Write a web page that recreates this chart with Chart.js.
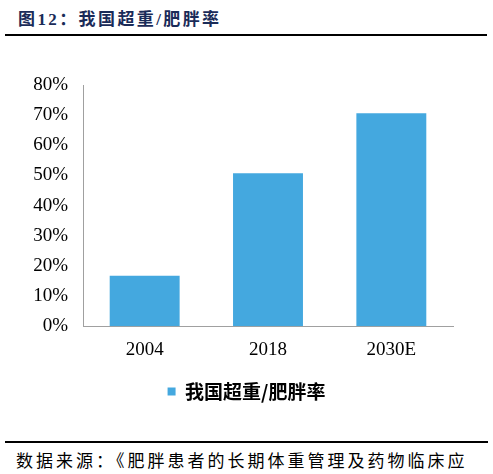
<!DOCTYPE html>
<html>
<head>
<meta charset="utf-8">
<script src="https://cdn.jsdelivr.net/npm/chart.js@4/dist/chart.umd.min.js"></script>
<style>
	body { margin:0; width:493px; height:474px; background:#fff; position:relative; overflow:hidden; }
	#title { position:absolute; left:18px; top:5px; font:bold 17px "Liberation Serif", "Noto Sans CJK SC", serif; color:#1a2b58; letter-spacing:2.4px; white-space:nowrap; }
	#topLine { position:absolute; left:5px; top:34px; width:482px; height:2px; background:#000; }
	#botLine { position:absolute; left:5px; top:441px; width:483px; height:2px; background:#000; }
	#source { position:absolute; left:16px; top:447px; font:17px "Noto Sans CJK SC", sans-serif; color:#000; white-space:nowrap; letter-spacing:3px; }
	#wrap { position:absolute; left:0; top:50px; width:493px; height:358px; }
</style>
</head>
<body>
<div id="title">图12：我国超重/肥胖率</div>
<div id="topLine"></div>
<div id="wrap"><canvas id="chart"></canvas></div>
<div id="botLine"></div>
<div id="source">数据来源：《肥胖患者的长期体重管理及药物临床应</div>
<script>
// chart data
var years = ['2004', '2018', '2030E'];
var obesityRate = [16.7, 50.7, 70.6];
var seriesName = '我国超重/肥胖率';
var yTicks = [0, 10, 20, 30, 40, 50, 60, 70, 80];

var serif = 'Liberation Serif';

// center the legend on the whole canvas, not only on the padded area
var legendShift = {
	id: 'legendShift',
	afterLayout: function(c) {
		c.legend.right += 40;
		c.legend.top += 3;
		c.legend.bottom += 3;
	}
};

var ctx = document.getElementById('chart').getContext('2d');
chart = new Chart(ctx, {
	type: 'bar',
	data: {
		labels: years,
		datasets: [{
			label: seriesName,
			data: obesityRate,
			backgroundColor: '#44a8df',
			barPercentage: 0.567,
			categoryPercentage: 1
		}]
	},
	plugins: [legendShift],
	options: {
		responsive: true,
		maintainAspectRatio: false,
		animation: false,
		layout: { padding: { left: 0, right: 40, top: 35, bottom: 0 } },
		plugins: {
			tooltip: { enabled: false },
			legend: {
				position: 'bottom',
				labels: {
					boxWidth: 8,
					boxHeight: 8,
					color: '#000',
					padding: 6,
					font: { family: '"Noto Sans CJK SC", sans-serif', size: 19, weight: 'bold' }
				}
			}
		},
		scales: {
			x: {
				grid: { display: false, drawTicks: false },
				border: { color: '#a0a0a0', width: 1 },
				ticks: {
					color: '#000',
					padding: 12,
					font: { family: serif, size: 19 }
				}
			},
			y: {
				min: 0,
				max: 80,
				afterBuildTicks: function(axis) {
					axis.ticks = yTicks.map(function(v) { return { value: v }; });
				},
				afterFit: function(axis) { axis.width = 83; },
				grid: { display: false, drawTicks: true, tickLength: 5, tickColor: '#a0a0a0' },
				border: { color: '#a0a0a0', width: 1 },
				ticks: {
					color: '#000',
					padding: 10,
					font: { family: serif, size: 19 },
					callback: function(v) { return v + '%'; }
				}
			}
		}
	}
});
</script>
</body>
</html>
